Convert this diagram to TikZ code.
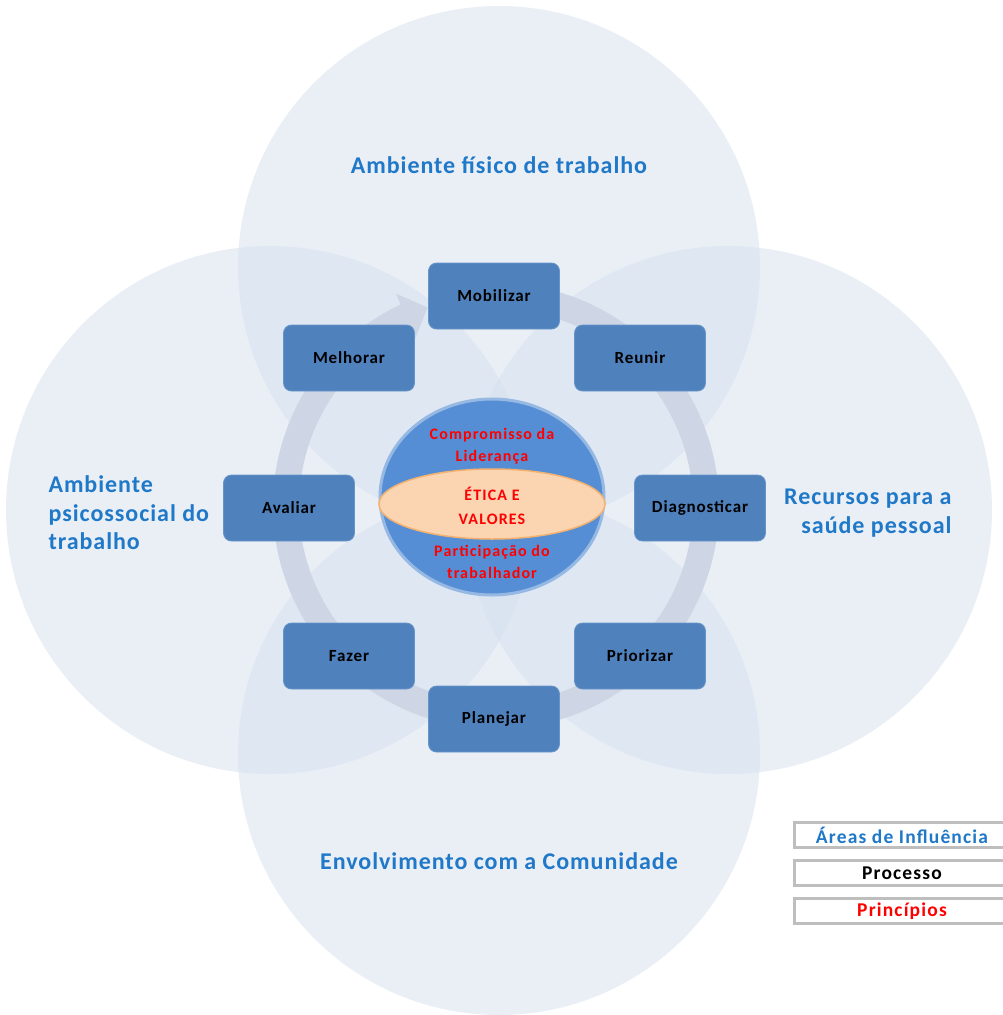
\documentclass[tikz,border=0pt]{standalone}
\usepackage{fontspec}
\setmainfont{Carlito}
\newfontfamily\spacedA[LetterSpace=4]{Carlito}
\newfontfamily\spacedB[LetterSpace=5]{Carlito}
\newfontfamily\spacedC[LetterSpace=7]{Carlito}
\newfontfamily\spacedD[LetterSpace=6]{Carlito}
\usetikzlibrary{arrows.meta,bending,shapes.geometric}
\definecolor{areafill}{RGB}{214,225,239}
\definecolor{ringcol}{RGB}{206,214,229}
\definecolor{boxfill}{RGB}{79,129,189}
\definecolor{boxline}{RGB}{104,149,201}
\definecolor{areatext}{RGB}{31,120,200}
\definecolor{globefill}{RGB}{86,142,213}
\definecolor{globeline}{RGB}{150,185,228}
\definecolor{ethfill}{RGB}{251,213,178}
\definecolor{ethline}{RGB}{243,178,112}
\definecolor{redtext}{RGB}{255,0,0}
\definecolor{legline}{RGB}{190,190,190}
\tikzset{
  area/.style={fill=areafill, fill opacity=0.5},
  procbox/.style={rectangle, rounded corners=8pt, fill=boxfill, draw=boxline, line width=0.8pt,
    minimum width=131pt, minimum height=66pt, font=\spacedB\fontsize{17}{20}\selectfont\bfseries, text=black},
  arealabel/.style={text=areatext, font=\spacedA\fontsize{24}{28.5}\selectfont\bfseries},
  princ/.style={text=redtext, font=\spacedC\fontsize{16}{21.5}\selectfont\bfseries, align=center},
  legbox/.style={rectangle, draw=legline, line width=2.5pt, fill=white, minimum width=222pt,
    minimum height=25pt, inner sep=0pt},
  legtext/.style={font=\spacedD\fontsize{19.5}{22}\selectfont\bfseries}
}
\begin{document}
\begin{tikzpicture}[x=1pt,y=-1pt]
\clip (0,0) rectangle (1003,1015);
\fill[white] (0,0) rectangle (1003,1015);
% areas of influence
\fill[area] (499,267) circle (261pt);
\fill[area] (270,510) circle (264pt);
\fill[area] (728,510) circle (264pt);
\fill[area] (499,754) circle (261pt);
% process ring
\coordinate (rc) at (496,506);
\draw[ringcol, line width=26pt, -{Triangle[length=24pt,width=48pt,flex]}]
  (rc) ++(75:210pt) arc[start angle=75, end angle=-251, radius=210pt];
% process boxes
\node[procbox] (mob) at (494,296) {Mobilizar};
\node[procbox] (reu) at (640,358) {Reunir};
\node[procbox] (dia) at (700,508) {Diagnosticar};
\node[procbox] (pri) at (640,656) {Priorizar};
\node[procbox] (pla) at (494,719) {Planejar};
\node[procbox] (faz) at (349,656) {Fazer};
\node[procbox] (ava) at (289,508) {Avaliar};
\node[procbox] (mel) at (349,358) {Melhorar};
% principles globe
\node[ellipse, fill=globefill, draw=globeline, line width=3pt, minimum width=224pt, minimum height=196pt] (globe) at (492,497) {};
\node[ellipse, fill=ethfill, draw=ethline, line width=1.5pt, minimum width=226pt, minimum height=70pt] (eth) at (492,504) {};
\node[princ] (lid) at (492,446) {Compromisso da\\Liderança};
\node[princ, font=\spacedC\fontsize{16}{24}\selectfont\bfseries] (eti) at (492,506) {ÉTICA E\\VALORES};
\node[princ] (par) at (492,562) {Participação do\\trabalhador};
% area labels
\node[arealabel] (fis) at (499,165) {Ambiente físico de trabalho};
\node[arealabel, align=left, anchor=west] (psi) at (45,513) {Ambiente\\psicossocial do\\trabalho};
\node[arealabel, align=right, anchor=east] (rec) at (955,513) {Recursos para a\\saúde pessoal};
\node[arealabel] (com) at (499,861) {Envolvimento com a Comunidade};
% legend
\node[legbox, anchor=west] (lg1) at (793,835) {};
\node[legbox, anchor=west] (lg2) at (793,873) {};
\node[legbox, anchor=west] (lg3) at (793,911) {};
\node[legtext, text=areatext] (lt1) at (902,835) {Áreas de Influência};
\node[legtext, text=black] (lt2) at (902,873) {Processo};
\node[legtext, text=redtext] (lt3) at (902,911) {Princípios};
\end{tikzpicture}
\end{document}
